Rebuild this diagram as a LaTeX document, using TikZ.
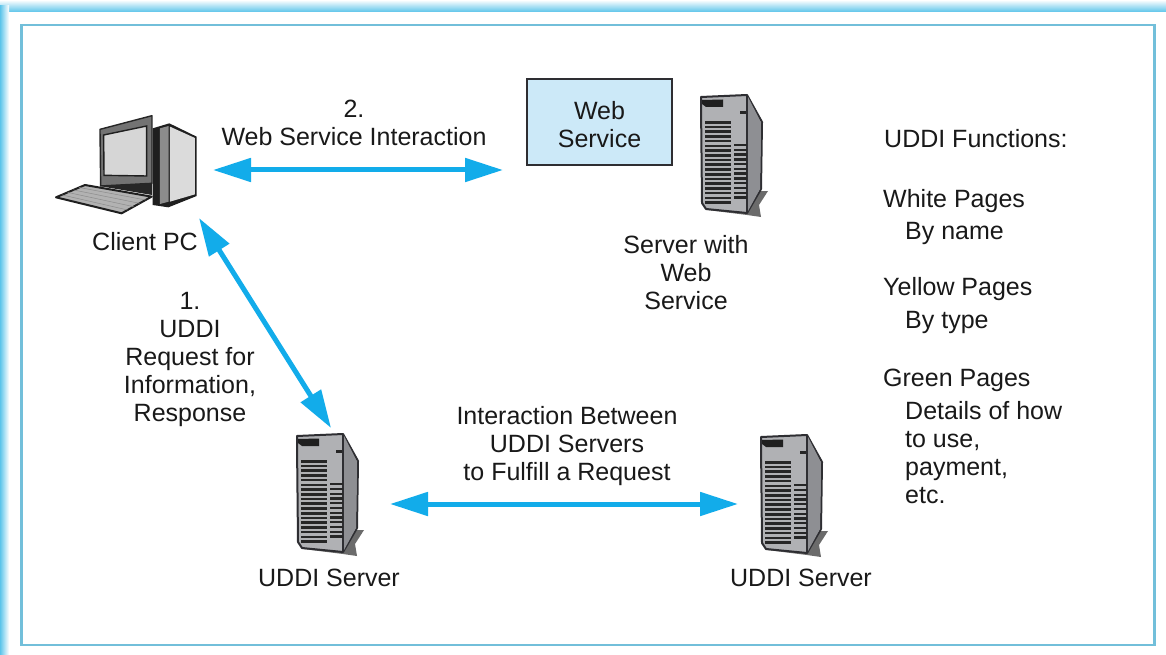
\documentclass[tikz,border=0pt]{standalone}
\usepackage{fontspec}
\setmainfont{Liberation Sans}
\usetikzlibrary{arrows.meta,calc}
\definecolor{arrowblue}{HTML}{12ACEA}
\definecolor{framec}{HTML}{72BFDA}
\definecolor{glow}{HTML}{5CC4EA}
\definecolor{boxfill}{HTML}{CCE9F8}
\definecolor{ink}{HTML}{2E2E32}
\definecolor{srvfront}{HTML}{B0B1B4}
\definecolor{srvside}{HTML}{8E8F93}
\tikzset{
 lbl/.style={font=\fontsize{25}{28}\selectfont,text=black!90,align=center,inner sep=0pt},
 lft/.style={lbl,anchor=west,align=left},
 link/.style={draw=arrowblue,line width=5pt,{Triangle[length=38pt,width=23pt]}-{Triangle[length=38pt,width=23pt]}},
 serverpic/.pic={
  \fill[black!58] (60,94) -- (67,94) -- (58,108) -- (60,120) -- (46,118) -- (6,113) -- (6,106) -- cycle;
  \filldraw[fill=srvfront,draw=ink,line width=2pt,line join=round] (0,8) -- (0,0) -- (46,-2) -- (61,25) -- (60,92) -- (46,116) -- (5,112) -- (1,106) -- cycle;
  \fill[srvside] (46.5,-1) -- (60,25.5) -- (59,92) -- (47,114) -- cycle;
  \draw[ink,line width=1.8pt] (46,-2) -- (46,116);
  \fill[black!88] (1,3) -- (22,2.5) -- (22,10) -- (5,10) -- (1,7) -- cycle;
  \fill[black!85] (38.5,14) rectangle (45,17);
  \foreach \k in {0,...,17} \fill[black!85] (3.7,24+\k*4.72) rectangle (30,26.6+\k*4.72);
  \foreach \k in {0,...,11} \fill[black!85] (33,47+\k*4.75) rectangle (46,49.4+\k*4.75);
 },
}
\begin{document}
\begin{tikzpicture}[x=1pt,y=-1pt]
\useasboundingbox (0,0) rectangle (1166,655);
\fill[white] (0,0) rectangle (1166,655);
\shade[top color=white,bottom color=glow] (0,0) rectangle (1166,12);
\shade[left color=glow,right color=white] (0,6) rectangle (9,655);
\draw[framec,line width=2.6pt] (21.5,25) rectangle (1154.5,645);

% client PC, drawn in 3x units
\begin{scope}[shift={(40,100)},x=0.3333pt,y=-0.3333pt]
 \fill[black!88] (338,85) -- (388,70) -- (470,110) -- (470,288) -- (385,322) -- (338,315) -- cycle;
 \fill[black!45] (360,85) -- (386,78) -- (386,305) -- (360,312) -- cycle;
 \fill[black!14] (390,80) -- (465,114) -- (465,283) -- (390,305) -- cycle;
 \filldraw[fill=black!55,draw=black!85,line width=1.4pt,line join=round] (180,88) -- (336,47) -- (336,250) -- (182,258) -- cycle;
 \filldraw[fill=black!16,draw=black!88,line width=1.4pt] (191,105) -- (320,78) -- (320,228) -- (192,226) -- cycle;
 \fill[black!85] (182,258) -- (336,250) -- (336,285) -- (200,262) -- cycle;
 \filldraw[fill=black!30,draw=black!88,line width=2pt,line join=round] (48,292) -- (135,255) -- (335,290) -- (245,340) -- cycle;
 \foreach \t in {0.2,0.4,0.6,0.8} \draw[black!45,line width=.5pt] ($(48,292)!\t!(135,255)$) -- ($(245,340)!\t!(335,290)$);
\end{scope}
\node[lbl] (pclabel) at (145,242) {Client PC};

\node[draw=ink,line width=1.6pt,fill=boxfill,minimum width=145pt,minimum height=86pt,inner sep=0pt,font=\fontsize{25}{28}\selectfont,align=center,text=black!90] (ws) at (599.5,122) {};
\node[lbl] (wst) at (599.5,125) {Web\\Service};

\pic at (701,97) {serverpic};
\pic at (297,436) {serverpic};
\pic at (761,437) {serverpic};

\coordinate (a1) at (213,170); \coordinate (a2) at (503,170);
\coordinate (b1) at (199,218); \coordinate (b2) at (331,428);
\coordinate (c1) at (390,504); \coordinate (c2) at (738,504);
\draw[link] (a1) -- (a2);
\draw[link] (b1) -- (b2);
\draw[link] (c1) -- (c2);

\node[lbl] (l2) at (354,123) {2.\\Web Service Interaction};
\node[lbl] (srvl) at (686,273) {Server with\\Web\\Service};
\node[lbl] (l1) at (190,359) {1.\\UDDI\\Request for\\Information,\\Response};
\node[lbl] (inter) at (567,446) {Interaction Between\\UDDI Servers\\to Fulfill a Request};
\node[lbl] (u1) at (329,578) {UDDI Server};
\node[lbl] (u2) at (801,578) {UDDI Server};

\node[lft] (f0) at (884,139) {UDDI Functions:};
\node[lft] (f1) at (883,201) {White Pages};
\node[lft] (f2) at (905,233) {By name};
\node[lft] (f3) at (883,289) {Yellow Pages};
\node[lft] (f4) at (905,322) {By type};
\node[lft] (f5) at (883,380) {Green Pages};
\node[lft,anchor=north west] (f6) at (905,401) {Details of how\\to use,\\payment,\\etc.};
\end{tikzpicture}
\end{document}
